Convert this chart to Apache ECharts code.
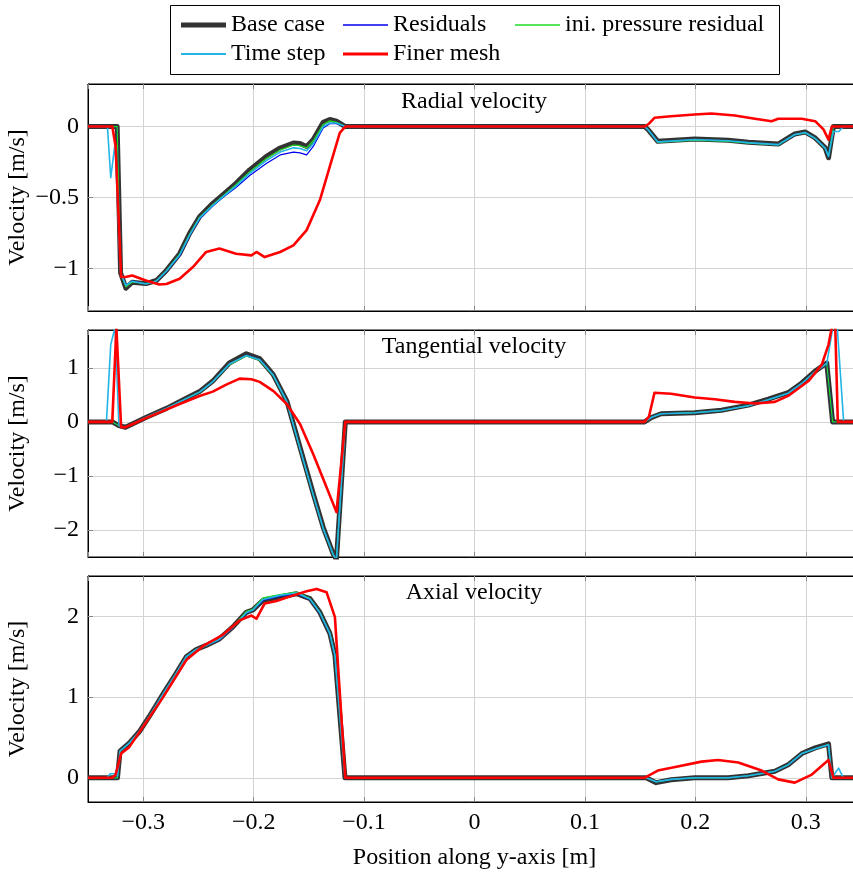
<!DOCTYPE html>
<html>
<head>
<meta charset="utf-8">
<script src="https://cdn.jsdelivr.net/npm/echarts@6/dist/echarts.min.js"></script>
<style>html,body{margin:0;padding:0;background:#fff;}#c{width:853px;height:873px;}</style>
</head>
<body>
<div id="c"></div>
<script>
// ---------- data ([position (m), velocity (m/s)]) ----------
const seriesNames = ['Base case', 'Residuals', 'ini. pressure residual', 'Time step', 'Finer mesh'];
const panelTitles = ['Radial velocity', 'Tangential velocity', 'Axial velocity'];
const xTickLabels = [-0.3, -0.2, -0.1, 0, 0.1, 0.2, 0.3];

// Radial velocity
const radBase = [[-0.35,0],[-0.3236,0],[-0.3205,-1.03],[-0.3157,-1.14],[-0.31,-1.097],[-0.2976,-1.107],[-0.288,-1.085],[-0.279,-1.014],[-0.267,-0.896],[-0.258,-0.753],[-0.249,-0.636],[-0.237,-0.541],[-0.228,-0.482],[-0.216,-0.40],[-0.2036,-0.305],[-0.1885,-0.21],[-0.176,-0.151],[-0.164,-0.116],[-0.158,-0.12],[-0.152,-0.14],[-0.146,-0.092],[-0.137,0.03],[-0.131,0.05],[-0.125,0.038],[-0.117,0],[0.154,0],[0.157,-0.02],[0.166,-0.104],[0.1994,-0.087],[0.2297,-0.097],[0.248,-0.11],[0.275,-0.123],[0.290,-0.052],[0.2994,-0.038],[0.3085,-0.08],[0.3176,-0.15],[0.3206,-0.22],[0.325,0],[0.35,0]];
const radResid = [[-0.35,0],[-0.3236,0],[-0.3205,-1.03],[-0.3157,-1.12],[-0.31,-1.09],[-0.2976,-1.107],[-0.288,-1.09],[-0.279,-1.02],[-0.267,-0.91],[-0.258,-0.77],[-0.249,-0.65],[-0.237,-0.56],[-0.228,-0.50],[-0.216,-0.43],[-0.2036,-0.345],[-0.1885,-0.26],[-0.176,-0.20],[-0.164,-0.18],[-0.158,-0.185],[-0.152,-0.2],[-0.146,-0.14],[-0.137,-0.01],[-0.131,0.02],[-0.125,0.02],[-0.117,0],[0.154,0],[0.157,-0.02],[0.166,-0.11],[0.1994,-0.094],[0.2297,-0.103],[0.248,-0.115],[0.275,-0.13],[0.290,-0.06],[0.2994,-0.045],[0.3085,-0.085],[0.3176,-0.155],[0.3206,-0.21],[0.325,0],[0.35,0]];
const radPres = [[-0.35,0],[-0.3236,0],[-0.3205,-1.03],[-0.3157,-1.13],[-0.31,-1.095],[-0.2976,-1.107],[-0.288,-1.087],[-0.279,-1.016],[-0.267,-0.90],[-0.258,-0.76],[-0.249,-0.64],[-0.237,-0.55],[-0.228,-0.49],[-0.216,-0.41],[-0.2036,-0.32],[-0.1885,-0.225],[-0.176,-0.165],[-0.164,-0.13],[-0.158,-0.135],[-0.152,-0.15],[-0.146,-0.1],[-0.137,0.015],[-0.131,0.04],[-0.125,0.03],[-0.117,0],[0.154,0],[0.157,-0.02],[0.166,-0.112],[0.1994,-0.095],[0.2297,-0.104],[0.248,-0.117],[0.275,-0.13],[0.290,-0.058],[0.2994,-0.044],[0.3085,-0.085],[0.3176,-0.155],[0.3206,-0.21],[0.325,0],[0.35,0]];
const radStep = [[-0.35,0],[-0.3324,0],[-0.3294,-0.36],[-0.3255,-0.12],[-0.3205,-1.03],[-0.3157,-1.12],[-0.31,-1.09],[-0.2976,-1.11],[-0.288,-1.088],[-0.279,-1.018],[-0.267,-0.905],[-0.258,-0.765],[-0.249,-0.645],[-0.237,-0.555],[-0.228,-0.495],[-0.216,-0.42],[-0.2036,-0.33],[-0.1885,-0.24],[-0.176,-0.18],[-0.164,-0.15],[-0.158,-0.155],[-0.152,-0.17],[-0.146,-0.12],[-0.137,0],[-0.131,0.025],[-0.125,0.025],[-0.117,0],[0.154,0],[0.157,-0.02],[0.166,-0.108],[0.1994,-0.091],[0.2297,-0.1],[0.248,-0.113],[0.275,-0.127],[0.290,-0.056],[0.2994,-0.042],[0.3085,-0.083],[0.3176,-0.152],[0.3206,-0.21],[0.325,-0.035],[0.33,-0.035],[0.334,0],[0.35,0]];
const radFine = [[-0.35,0],[-0.328,0],[-0.325,-0.14],[-0.320,-1.06],[-0.316,-1.06],[-0.310,-1.05],[-0.2976,-1.085],[-0.2855,-1.113],[-0.279,-1.11],[-0.267,-1.073],[-0.255,-0.99],[-0.243,-0.884],[-0.231,-0.86],[-0.216,-0.896],[-0.202,-0.908],[-0.1975,-0.884],[-0.19,-0.92],[-0.176,-0.884],[-0.164,-0.837],[-0.152,-0.73],[-0.14,-0.518],[-0.131,-0.28],[-0.122,-0.045],[-0.117,0],[0.154,0],[0.158,0.02],[0.163,0.062],[0.178,0.073],[0.1994,0.085],[0.2145,0.092],[0.2357,0.078],[0.254,0.055],[0.269,0.038],[0.275,0.055],[0.2964,0.055],[0.3085,0.038],[0.316,-0.02],[0.3206,-0.092],[0.3236,0],[0.35,0]];

// Tangential velocity
const tanBase = [[-0.35,0],[-0.328,0],[-0.322,-0.07],[-0.316,-0.1],[-0.2976,0.08],[-0.279,0.25],[-0.261,0.44],[-0.249,0.56],[-0.237,0.755],[-0.222,1.09],[-0.2066,1.26],[-0.1945,1.17],[-0.1824,0.88],[-0.170,0.39],[-0.158,-0.47],[-0.146,-1.33],[-0.137,-1.95],[-0.128,-2.44],[-0.125,-2.55],[-0.117,0],[0.154,0],[0.16,0.08],[0.169,0.15],[0.1994,0.17],[0.2236,0.215],[0.248,0.31],[0.266,0.42],[0.284,0.54],[0.2964,0.72],[0.3085,0.94],[0.319,1.09],[0.3243,0],[0.35,0]];
const tanResid = [[-0.35,0],[-0.328,0],[-0.322,-0.07],[-0.316,-0.1],[-0.2976,0.08],[-0.279,0.25],[-0.261,0.43],[-0.249,0.55],[-0.237,0.74],[-0.222,1.06],[-0.2066,1.23],[-0.1945,1.15],[-0.1824,0.87],[-0.170,0.37],[-0.158,-0.5],[-0.146,-1.36],[-0.137,-1.98],[-0.128,-2.46],[-0.125,-2.55],[-0.117,0],[0.154,0],[0.16,0.08],[0.169,0.15],[0.1994,0.17],[0.2236,0.21],[0.248,0.3],[0.266,0.41],[0.284,0.53],[0.2964,0.71],[0.3085,0.93],[0.319,1.08],[0.3243,0],[0.35,0]];
const tanPres = [[-0.35,0],[-0.328,0],[-0.322,-0.07],[-0.316,-0.1],[-0.2976,0.08],[-0.279,0.25],[-0.261,0.43],[-0.249,0.55],[-0.237,0.74],[-0.222,1.06],[-0.2066,1.22],[-0.1945,1.14],[-0.1824,0.86],[-0.170,0.37],[-0.158,-0.5],[-0.146,-1.36],[-0.137,-1.98],[-0.128,-2.46],[-0.125,-2.55],[-0.117,0],[0.154,0],[0.16,0.08],[0.169,0.15],[0.1994,0.17],[0.2236,0.21],[0.248,0.3],[0.266,0.41],[0.284,0.53],[0.2964,0.71],[0.3085,0.93],[0.319,1.08],[0.3243,0],[0.35,0]];
const tanStep = [[-0.35,0],[-0.3333,0],[-0.3294,1.43],[-0.3255,1.75],[-0.322,-0.07],[-0.316,-0.1],[-0.2976,0.08],[-0.279,0.25],[-0.261,0.43],[-0.249,0.55],[-0.237,0.745],[-0.222,1.07],[-0.2066,1.23],[-0.1945,1.15],[-0.1824,0.87],[-0.170,0.38],[-0.158,-0.49],[-0.146,-1.35],[-0.137,-1.97],[-0.128,-2.45],[-0.125,-2.55],[-0.117,0],[0.154,0],[0.16,0.08],[0.169,0.15],[0.1994,0.17],[0.2236,0.21],[0.248,0.3],[0.266,0.41],[0.284,0.53],[0.2964,0.71],[0.3085,0.93],[0.319,1.08],[0.3245,1.75],[0.3285,1.75],[0.3343,0],[0.35,0]];
const tanFine = [[-0.35,0],[-0.328,0],[-0.3243,1.75],[-0.320,-0.1],[-0.316,-0.1],[-0.2976,0.07],[-0.267,0.33],[-0.249,0.48],[-0.237,0.56],[-0.2248,0.69],[-0.2127,0.80],[-0.202,0.79],[-0.1945,0.74],[-0.182,0.57],[-0.170,0.33],[-0.158,-0.04],[-0.146,-0.6],[-0.134,-1.21],[-0.125,-1.67],[-0.117,0],[0.154,0],[0.158,0.1],[0.163,0.54],[0.178,0.52],[0.1994,0.45],[0.2175,0.42],[0.2357,0.37],[0.254,0.34],[0.272,0.37],[0.284,0.48],[0.3024,0.755],[0.3145,1.06],[0.3206,1.43],[0.3236,1.75],[0.3267,1.75],[0.329,0],[0.35,0]];

// Axial velocity
const axBase = [[-0.35,0],[-0.3233,0],[-0.321,0.33],[-0.3127,0.43],[-0.3036,0.57],[-0.2945,0.76],[-0.2824,1.03],[-0.2703,1.29],[-0.261,1.50],[-0.252,1.59],[-0.243,1.64],[-0.231,1.72],[-0.2188,1.87],[-0.2066,2.05],[-0.2006,2.08],[-0.1915,2.20],[-0.1764,2.24],[-0.1612,2.28],[-0.149,2.22],[-0.14,2.05],[-0.131,1.79],[-0.1264,1.52],[-0.1173,0],[0.1555,0],[0.1645,-0.06],[0.178,-0.025],[0.1994,0],[0.2297,0],[0.248,0.025],[0.272,0.08],[0.284,0.16],[0.2964,0.30],[0.3085,0.37],[0.3206,0.42],[0.3236,0],[0.35,0]];
const axResid = [[-0.35,0],[-0.3233,0],[-0.321,0.33],[-0.3127,0.43],[-0.3036,0.57],[-0.2945,0.76],[-0.2824,1.03],[-0.2703,1.29],[-0.261,1.50],[-0.252,1.59],[-0.243,1.64],[-0.231,1.71],[-0.2188,1.86],[-0.2066,2.04],[-0.2006,2.08],[-0.1915,2.20],[-0.1764,2.25],[-0.1612,2.28],[-0.149,2.21],[-0.14,2.04],[-0.131,1.78],[-0.1264,1.51],[-0.1173,0],[0.1555,0],[0.1645,-0.05],[0.178,-0.02],[0.1994,0],[0.2297,0],[0.248,0.025],[0.272,0.08],[0.284,0.16],[0.2964,0.30],[0.3085,0.36],[0.3206,0.41],[0.3236,0],[0.35,0]];
const axPres = [[-0.35,0],[-0.3233,0],[-0.321,0.33],[-0.3127,0.43],[-0.3036,0.57],[-0.2945,0.76],[-0.2824,1.03],[-0.2703,1.29],[-0.261,1.50],[-0.252,1.59],[-0.243,1.64],[-0.231,1.72],[-0.2188,1.87],[-0.2066,2.06],[-0.2006,2.09],[-0.1915,2.23],[-0.1764,2.27],[-0.1612,2.30],[-0.149,2.22],[-0.14,2.05],[-0.131,1.79],[-0.1264,1.52],[-0.1173,0],[0.1555,0],[0.1645,-0.05],[0.178,-0.02],[0.1994,0],[0.2297,0],[0.248,0.025],[0.272,0.08],[0.284,0.16],[0.2964,0.30],[0.3085,0.36],[0.3206,0.41],[0.3236,0],[0.35,0]];
const axStep = [[-0.35,0],[-0.3324,0],[-0.330,0.05],[-0.326,0.05],[-0.3233,0.02],[-0.321,0.33],[-0.3127,0.43],[-0.3036,0.57],[-0.2945,0.76],[-0.2824,1.03],[-0.2703,1.29],[-0.261,1.50],[-0.252,1.59],[-0.243,1.64],[-0.231,1.715],[-0.2188,1.865],[-0.2066,2.045],[-0.2006,2.08],[-0.1915,2.21],[-0.1764,2.26],[-0.1612,2.29],[-0.149,2.215],[-0.14,2.045],[-0.131,1.785],[-0.1264,1.515],[-0.1173,0],[0.1555,0],[0.1645,-0.05],[0.178,-0.02],[0.1994,0],[0.2297,0],[0.248,0.025],[0.272,0.08],[0.284,0.16],[0.2964,0.30],[0.3085,0.36],[0.3206,0.41],[0.3236,0],[0.3297,0.12],[0.334,0],[0.35,0]];
const axFine = [[-0.35,0],[-0.328,0],[-0.325,0.04],[-0.32,0.30],[-0.3127,0.38],[-0.2824,0.99],[-0.261,1.46],[-0.246,1.63],[-0.228,1.77],[-0.2127,1.95],[-0.202,2.01],[-0.1975,1.97],[-0.19,2.16],[-0.1794,2.19],[-0.164,2.26],[-0.152,2.31],[-0.143,2.34],[-0.134,2.3],[-0.1264,1.99],[-0.1233,1.33],[-0.117,0],[0.154,0],[0.158,0.03],[0.166,0.09],[0.184,0.14],[0.2055,0.20],[0.2206,0.22],[0.2388,0.19],[0.26,0.09],[0.275,-0.02],[0.290,-0.06],[0.3055,0.04],[0.3206,0.22],[0.325,0],[0.35,0]];

const yRanges = [[-1.3, 0.3], [-2.5, 1.7], [-0.3, 2.5]];
const ySplits = [3, 4, 3];
const xRange = [-0.35, 0.35];

const panelData = [
  [radBase, radResid, radPres, radStep, radFine],
  [tanBase, tanResid, tanPres, tanStep, tanFine],
  [axBase, axResid, axPres, axStep, axFine]
];

// ---------- styling ----------
const FONT = 'Liberation Serif';
const FS = 24;
const styles = [
  {color: '#333333', width: 5, icon: 5},
  {color: '#0000ee', width: 1.2, icon: 1.6},
  {color: '#22dd22', width: 1.2, icon: 1.6},
  {color: '#22b5e6', width: 1.6, icon: 2},
  {color: '#ff0000', width: 2.6, icon: 3}
];
const gridTops = [84, 330, 576];
const gridHeights = [227, 227, 226];

function fmt(v) {
  const r = Math.round(v * 1000) / 1000;
  return String(r).replace('-', '\u2212');
}

const grids = [], xAxes = [], yAxes = [], series = [];
for (let p = 0; p < 3; p++) {
  grids.push({left: 88, top: gridTops[p], width: 773, height: gridHeights[p], show: true, borderColor: '#000', borderWidth: 1, containLabel: false, outerBoundsMode: 'none'});
  xAxes.push({
    type: 'value', gridIndex: p, min: xRange[0], max: xRange[1], splitNumber: 7,
    axisLine: {show: true, onZero: false, lineStyle: {color: '#000', width: 1}},
    axisTick: {show: true, inside: true, length: 5, lineStyle: {color: '#888'}},
    splitLine: {show: true, lineStyle: {color: '#d3d3d3', width: 1}},
    axisLabel: {show: p === 2, showMinLabel: false, showMaxLabel: false, margin: 9, color: '#000', fontFamily: FONT, fontSize: FS, formatter: fmt},
    name: p === 2 ? 'Position along y-axis [m]' : '', nameLocation: 'middle', nameGap: 44, nameMoveOverlap: false,
    nameTextStyle: {color: '#000', fontFamily: FONT, fontSize: FS}
  });
  yAxes.push({
    type: 'value', gridIndex: p, min: yRanges[p][0], max: yRanges[p][1], splitNumber: ySplits[p],
    axisLine: {show: true, onZero: false, lineStyle: {color: '#000', width: 1}},
    axisTick: {show: true, inside: true, length: 5, lineStyle: {color: '#888'}},
    splitLine: {show: true, lineStyle: {color: '#d3d3d3', width: 1}},
    axisLabel: {show: true, showMinLabel: false, showMaxLabel: false, margin: 9, color: '#000', fontFamily: FONT, fontSize: FS, formatter: fmt},
    name: 'Velocity [m/s]', nameLocation: 'middle', nameGap: 58, nameMoveOverlap: false,
    nameTextStyle: {color: '#000', fontFamily: FONT, fontSize: FS}
  });
}
// top axes (ticks only)
for (let p = 0; p < 3; p++) {
  xAxes.push({
    type: 'value', gridIndex: p, position: 'top', min: xRange[0], max: xRange[1], splitNumber: 7,
    axisLine: {show: true, onZero: false, lineStyle: {color: '#000', width: 1}},
    axisTick: {show: true, inside: true, length: 5, lineStyle: {color: '#888'}},
    splitLine: {show: false}, axisLabel: {show: false}
  });
}
for (let p = 0; p < 3; p++) {
  for (let s = 0; s < 5; s++) {
    series.push({
      type: 'line', name: seriesNames[s], xAxisIndex: p, yAxisIndex: p,
      data: panelData[p][s], showSymbol: false, symbol: 'none', clip: true,
      lineStyle: {color: styles[s].color, width: styles[s].width, join: 'round'},
      itemStyle: {color: styles[s].color},
      z: 2 + s, animation: false
    });
  }
}

const legendPos = [[181, 13], [343, 13], [515, 13], [181, 42], [343, 42]];
const legends = seriesNames.map((n, i) => ({
  data: [{name: n, icon: 'rect', itemStyle: {color: styles[i].color, borderWidth: 0}}],
  left: legendPos[i][0], top: legendPos[i][1], padding: 0,
  itemWidth: 45, itemHeight: styles[i].icon, selectedMode: false,
  itemStyle: {color: styles[i].color, borderWidth: 0},
  textStyle: {color: '#000', fontFamily: FONT, fontSize: FS}
}));

const graphics = [{type: 'rect', shape: {x: 170.5, y: 5.5, width: 609, height: 69}, style: {fill: 'none', stroke: '#000', lineWidth: 1}, z: 10}];
const titleY = [102, 347, 593];
panelTitles.forEach((t, i) => graphics.push({
  type: 'text', x: 474, y: titleY[i], z: 10,
  style: {text: t, font: FS + 'px "' + FONT + '"', fill: '#000', align: 'center', verticalAlign: 'middle', textAlign: 'center', textVerticalAlign: 'middle'}
}));

const chart = echarts.init(document.getElementById('c'), null, {renderer: 'canvas'});
chart.setOption({
  animation: false,
  backgroundColor: '#fff',
  grid: grids, xAxis: xAxes, yAxis: yAxes, series: series,
  legend: legends, graphic: graphics
});
</script>
</body>
</html>
